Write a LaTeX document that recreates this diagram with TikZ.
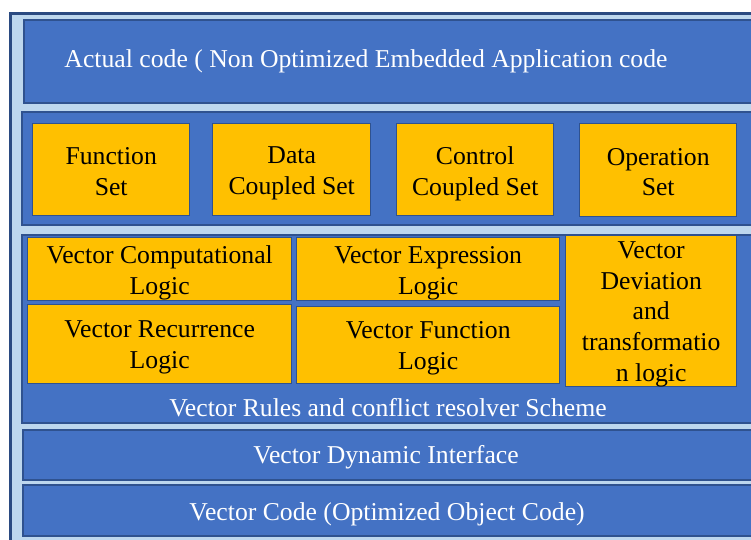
\documentclass[tikz,border=0pt]{standalone}
\usepackage{fontspec}
\setmainfont{Liberation Serif}
\definecolor{panelblue}{HTML}{BDD7EE}
\definecolor{layerblue}{HTML}{4472C4}
\definecolor{edgeblue}{HTML}{2F528F}
\definecolor{setorange}{HTML}{FFC000}
\tikzset{
  layer/.style={draw=edgeblue, line width=1.6bp, fill=layerblue, anchor=north west,
    inner sep=0pt, rectangle},
  block/.style={draw=edgeblue, line width=1.4bp, fill=setorange, anchor=north west,
    inner sep=0pt, rectangle},
  blocktxt/.style={text=black, inner sep=0pt, align=center,
    font=\fontsize{25.7bp}{30.8bp}\selectfont},
  caption/.style={text=white, inner sep=0pt, align=center,
    font=\fontsize{25.7bp}{30.8bp}\selectfont},
}
\begin{document}
\begin{tikzpicture}[x=1bp, y=-1bp]
  \path[use as bounding box] (0,0) rectangle (751,540);
  \clip (0,0) rectangle (751,540);
  \fill[white] (0,0) rectangle (751,540);

  % background panel
  \node[draw=edgeblue!90!black, line width=2.6bp, fill=panelblue, anchor=north west,
        inner sep=0pt, minimum width=780bp, minimum height=560bp] (panel) at (9,12) {};

  % top layer
  \node[layer, minimum width=760bp, minimum height=83bp] (actual) at (23,19) {};
  \node[caption] (actualtxt) at (366,61) {Actual code ( Non Optimized Embedded Application code};

  % set layer
  \node[layer, minimum width=760bp, minimum height=113bp] (sets) at (21,111) {};
  \node[block, minimum width=157bp, minimum height=92bp] (fset) at (32,123) {};
  \node[block, minimum width=158bp, minimum height=92bp] (dset) at (212,123) {};
  \node[block, minimum width=157bp, minimum height=92bp] (cset) at (396,123) {};
  \node[block, minimum width=157bp, minimum height=93bp] (oset) at (579,123) {};
  \node[blocktxt] (fsettxt) at ([yshift=-2bp]fset.center) {Function\\Set};
  \node[blocktxt] (dsettxt) at ([yshift=-4bp]dset.center) {Data\\Coupled Set};
  \node[blocktxt] (csettxt) at ([yshift=-4bp]cset.center) {Control\\Coupled Set};
  \node[blocktxt] (osettxt) at ([yshift=-2bp]oset.center) {Operation\\Set};

  % vector logic layer
  \node[layer, minimum width=760bp, minimum height=188bp] (vec) at (21,234) {};
  \node[block, minimum width=264bp, minimum height=63bp] (vcl) at (27,237) {};
  \node[block, minimum width=264bp, minimum height=79bp] (vrl) at (27,304) {};
  \node[block, minimum width=263bp, minimum height=63bp] (vel) at (296,237) {};
  \node[block, minimum width=263bp, minimum height=77bp] (vfl) at (296,306) {};
  \node[block, minimum width=171bp, minimum height=151bp] (vdt) at (565,235) {};
  \node[blocktxt] (vcltxt) at ([yshift=-4bp]vcl.center) {Vector Computational\\Logic};
  \node[blocktxt] (vrltxt) at ([yshift=-3bp]vrl.center) {Vector Recurrence\\Logic};
  \node[blocktxt] (veltxt) at ([yshift=-4bp]vel.center) {Vector Expression\\Logic};
  \node[blocktxt] (vfltxt) at ([yshift=-3bp]vfl.center) {Vector Function\\Logic};
  \node[blocktxt] (vdttxt) at ([yshift=-3bp]vdt.center)
    {Vector\\Deviation\\and\\transformatio\\n logic};
  \node[caption] (vectxt) at (388,408) {Vector Rules and conflict resolver Scheme};

  % interface layer
  \node[layer, minimum width=760bp, minimum height=50bp] (dyn) at (22,429) {};
  \node[caption] (dyntxt) at (386,457) {Vector Dynamic Interface};

  % output layer
  \node[layer, minimum width=760bp, minimum height=51bp] (code) at (22,484) {};
  \node[caption] (codetxt) at (387,514) {Vector Code (Optimized Object Code)};
\end{tikzpicture}
\end{document}
